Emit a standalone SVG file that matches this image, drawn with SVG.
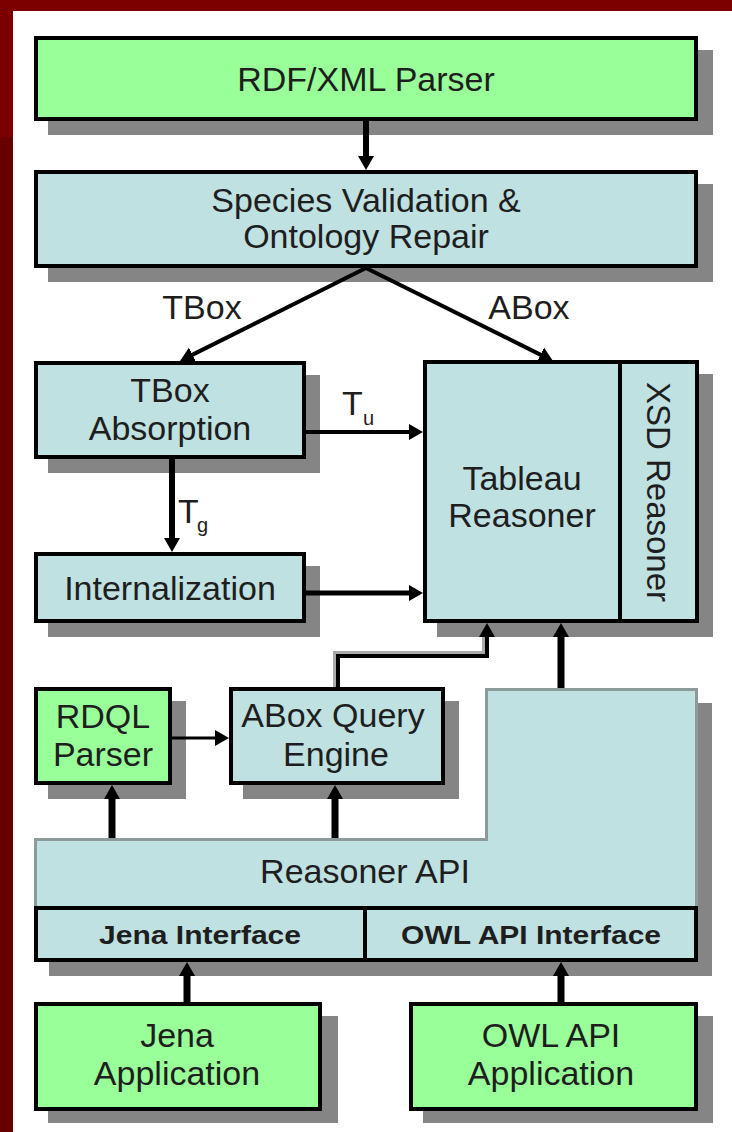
<svg xmlns="http://www.w3.org/2000/svg" width="732" height="1132" viewBox="0 0 732 1132">
<style>
.bg{fill:#ffffff}
.shadow{fill:#858585}
.green{fill:#99ff99;stroke:#000;stroke-width:4}
.blue{fill:#c0e1e1;stroke:#000;stroke-width:4}
.api{fill:#c0e1e1;stroke:#8c9a9a;stroke-width:3}
.div{stroke:#000;stroke-width:4;fill:none}
text{font-family:"Liberation Sans",Arial,sans-serif;fill:#1e1e1e}
.t{font-size:34px;text-anchor:middle}
.lbl{font-size:34px}
.sub{font-size:20px}
.b{font-size:25px;font-weight:bold;text-anchor:middle}
.c{stroke:#000;fill:none}
</style>
<defs>
<marker id="ah" markerUnits="userSpaceOnUse" markerWidth="16" markerHeight="18" viewBox="0 0 16 18" refX="6" refY="9" orient="auto">
<path d="M0,1 L14,9 L0,17 z" fill="#000"/>
</marker>
</defs>
<rect class="bg" x="0" y="0" width="732" height="1132"/>
<g id="frame">
<rect x="0" y="0" width="732" height="11" fill="#7d0000"/>
<rect x="0" y="0" width="13" height="137" fill="#7d0000"/>
<rect x="0" y="137" width="13" height="995" fill="#690000"/>
</g>

<g id="rdfxml-parser">
<rect class="shadow" x="48" y="50" width="665" height="85"/>
<rect class="green" x="36" y="38" width="660" height="81"/>
<text class="t" x="366" y="91">RDF/XML Parser</text>
</g>

<g id="species-validation">
<rect class="shadow" x="48" y="184" width="665" height="98"/>
<rect class="blue" x="36" y="172" width="660" height="94"/>
<text class="t" x="366" y="212">Species Validation &amp;</text>
<text class="t" x="366" y="248">Ontology Repair</text>
</g>

<g id="tbox-absorption">
<rect class="shadow" x="48" y="375" width="272" height="98"/>
<rect class="blue" x="36" y="363" width="268" height="94"/>
<text class="t" x="170" y="402">TBox</text>
<text class="t" x="170" y="440">Absorption</text>
</g>

<g id="internalization">
<rect class="shadow" x="48" y="566" width="272" height="71"/>
<rect class="blue" x="36" y="554" width="268" height="67"/>
<text class="t" x="170" y="600">Internalization</text>
</g>

<g id="tableau-reasoner">
<rect class="shadow" x="437" y="374" width="276" height="263"/>
<rect class="blue" x="425" y="362" width="272" height="259"/>
<line class="div" x1="620" y1="362" x2="620" y2="621"/>
<text class="t" x="522" y="490">Tableau</text>
<text class="t" x="522" y="527">Reasoner</text>
<text class="t" style="font-size:33px" transform="translate(647,492) rotate(90)">XSD Reasoner</text>
</g>

<g id="rdql-parser">
<rect class="shadow" x="48" y="701" width="138" height="98"/>
<rect class="green" x="36" y="689" width="134" height="94"/>
<text class="t" x="103" y="728">RDQL</text>
<text class="t" x="103" y="766">Parser</text>
</g>

<g id="abox-query-engine">
<rect class="shadow" x="243" y="701" width="216" height="98"/>
<rect class="blue" x="231" y="689" width="212" height="94"/>
<text class="t" x="333" y="727">ABox Query</text>
<text class="t" x="336" y="766">Engine</text>
</g>

<g id="reasoner-api">
<polygon class="shadow" points="49,853 500,853 500,703 712,703 712,976 49,976"/>
<polygon class="api" points="35.5,839.5 486.5,839.5 486.5,689.5 696.5,689.5 696.5,908 35.5,908"/>
<text class="t" x="365" y="883">Reasoner API</text>
</g>

<g id="interfaces">
<rect class="blue" x="36" y="908" width="660" height="52"/>
<line class="div" x1="365" y1="908" x2="365" y2="960"/>
<text class="b" x="200" y="944" textLength="202" lengthAdjust="spacingAndGlyphs">Jena Interface</text>
<text class="b" x="531" y="944" textLength="260" lengthAdjust="spacingAndGlyphs">OWL API Interface</text>
</g>

<g id="jena-application">
<rect class="shadow" x="48" y="1016" width="290" height="107"/>
<rect class="green" x="36" y="1004" width="284" height="105"/>
<text class="t" x="177" y="1047">Jena</text>
<text class="t" x="177" y="1085">Application</text>
</g>

<g id="owl-api-application">
<rect class="shadow" x="423" y="1016" width="290" height="107"/>
<rect class="green" x="411" y="1004" width="285" height="105"/>
<text class="t" x="551" y="1047">OWL API</text>
<text class="t" x="551" y="1085">Application</text>
</g>

<g id="connectors">
<line class="c" x1="366" y1="121" x2="366" y2="162" stroke-width="6" marker-end="url(#ah)"/>
<line class="c" x1="366" y1="268" x2="187.2" y2="357.4" stroke-width="4" marker-end="url(#ah)"/>
<line class="c" x1="366" y1="268" x2="545.8" y2="357.4" stroke-width="4" marker-end="url(#ah)"/>
<line class="c" x1="306" y1="432" x2="415" y2="432" stroke-width="4" marker-end="url(#ah)"/>
<line class="c" x1="172" y1="459" x2="172" y2="544" stroke-width="6" marker-end="url(#ah)"/>
<line class="c" x1="306" y1="593" x2="415" y2="593" stroke-width="5" marker-end="url(#ah)"/>
<polyline points="335,687 335,653 484,653 484,636" fill="none" stroke="#aaaaaa" stroke-width="4"/>
<polyline class="c" points="338,687 338,656 487,656 487,631" stroke-width="4" marker-end="url(#ah)"/>
<line class="c" x1="561" y1="688" x2="561" y2="631" stroke-width="7" marker-end="url(#ah)"/>
<line class="c" x1="172" y1="738" x2="221" y2="738" stroke-width="3" marker-end="url(#ah)"/>
<line class="c" x1="112" y1="838" x2="112" y2="793" stroke-width="7" marker-end="url(#ah)"/>
<line class="c" x1="335" y1="838" x2="335" y2="793" stroke-width="7" marker-end="url(#ah)"/>
<line class="c" x1="187" y1="1002" x2="187" y2="970" stroke-width="7" marker-end="url(#ah)"/>
<line class="c" x1="561" y1="1002" x2="561" y2="970" stroke-width="7" marker-end="url(#ah)"/>
</g>

<g id="connector-labels">
<text class="lbl" x="202" y="319" text-anchor="middle">TBox</text>
<text class="lbl" x="529" y="319" text-anchor="middle">ABox</text>
<text class="lbl" x="342" y="415">T</text>
<text class="sub" x="363" y="425">u</text>
<text class="lbl" x="178" y="523">T</text>
<text class="sub" x="197" y="532">g</text>
</g>
</svg>
